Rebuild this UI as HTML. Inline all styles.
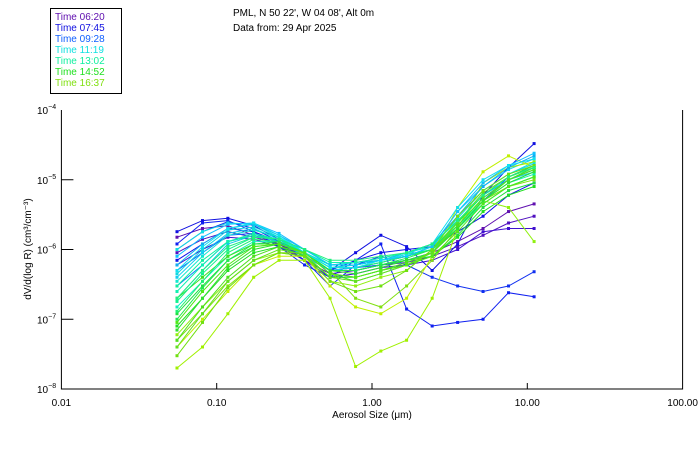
<!DOCTYPE html>
<html><head><meta charset="utf-8">
<style>
body{margin:0;background:#fff;width:700px;height:450px;overflow:hidden;font-family:"Liberation Sans","DejaVu Sans",sans-serif;}
svg{display:block}
text{font-family:"Liberation Sans","DejaVu Sans",sans-serif;font-size:10px;fill:#000}
</style></head>
<body>
<svg id="chart" width="700" height="450" viewBox="0 0 700 450">
<rect x="50.5" y="8.5" width="71" height="85" fill="#fff" stroke="#000" stroke-width="1"/>
<g id="legend"></g>
<text x="233" y="16">PML, N 50 22', W 04 08', Alt 0m</text>
<text x="233" y="31">Data from: 29 Apr 2025</text>
<g id="series"></g>
<g id="axes"></g>
<text x="372" y="418" text-anchor="middle">Aerosol Size (μm)</text>
<text transform="translate(31,249) rotate(-90)" text-anchor="middle">dV/d(log R) (cm³/cm⁻³)</text>
</svg>
<script>
const sizes = [0.0555,0.081,0.118,0.173,0.252,0.368,0.537,0.784,1.14,1.67,2.44,3.56,5.19,7.57,11.06];
const xTicks = [0.01,0.1,1,10,100];
const xTickLabels = ["0.01","0.10","1.00","10.00","100.00"];
const yTicks = [-4,-5,-6,-7,-8];
const legendLabels = ["Time 06:20","Time 07:45","Time 09:28","Time 11:19","Time 13:02","Time 14:52","Time 16:37"];
const legendColors = ["#6010b0","#1010e0","#1060ff","#10e0e0","#10f0a0","#20e020","#80e010"];
const seriesColors = ["#6010b0","#5010c0","#4010d0","#1010e0","#1020f0","#1030f0","#1010e8","#1060ff","#1080ff","#10e0e0","#10d0f0","#10c8e8","#10f0a0","#10f0c0","#20e040","#20e020","#40e020","#80e010","#a0f000","#c0f000","#90f010",
"#10b0f0","#10d8e0","#10e8d0","#10f0b0","#10f090","#20f070","#20e850","#30e030","#50e020","#60e020","#70e010","#10c0ff","#10e0f0","#20f080","#50e818"];
const s01=[1.5e-6,2e-6,2.2e-6,1.6e-6,1.2e-6,7e-7,4.5e-7,5e-7,6e-7,7e-7,9e-7,1.3e-6,2e-6,3.5e-6,4.5e-6];
const s02=[9e-7,1.4e-6,1.8e-6,1.5e-6,1.2e-6,8e-7,5e-7,5.5e-7,6e-7,6.5e-7,8e-7,1.1e-6,1.6e-6,2.4e-6,3e-6];
const s03=[6e-7,1e-6,1.5e-6,1.4e-6,1.1e-6,7e-7,4e-7,4.5e-7,5.5e-7,6e-7,7e-7,1e-6,1.8e-6,2e-6,2e-6];
const s04=[1.8e-6,2.6e-6,2.8e-6,2.2e-6,1.4e-6,8e-7,5e-7,9e-7,1.6e-6,1.1e-6,5e-7,1.2e-6,6e-6,1.5e-5,3.3e-5];
const s05=[1.2e-6,2.4e-6,2.6e-6,1.8e-6,1.1e-6,6e-7,4e-7,7e-7,1.2e-6,1.4e-7,8e-8,9e-8,1e-7,2.4e-7,2.1e-7];
const s06=[1e-6,1.8e-6,2.5e-6,2e-6,1.3e-6,7e-7,3e-7,6e-7,8e-7,6e-7,4e-7,3e-7,2.5e-7,3e-7,4.8e-7];
const s07=[7e-7,1.2e-6,2e-6,1.8e-6,1.3e-6,8e-7,5e-7,7e-7,9e-7,1e-6,1.1e-6,1.8e-6,3e-6,6e-6,9e-6];
const s08=[5e-7,9e-7,1.6e-6,1.7e-6,1.3e-6,8e-7,5e-7,5.5e-7,6e-7,7e-7,9e-7,2e-6,5e-6,1.1e-5,1.6e-5];
const s09=[3e-7,6e-7,1.3e-6,1.6e-6,1.3e-6,8e-7,5e-7,5.5e-7,6.5e-7,8e-7,1e-6,2.5e-6,6e-6,1e-5,1.4e-5];
const s10=[1e-6,1.8e-6,2.4e-6,2.3e-6,1.5e-6,9e-7,6e-7,6e-7,7e-7,8e-7,1e-6,3e-6,7e-6,1.2e-5,1.8e-5];
const s11=[4e-7,9e-7,1.7e-6,2e-6,1.4e-6,8e-7,5e-7,5.5e-7,6.5e-7,8e-7,1.1e-6,3.5e-6,8e-6,1.4e-5,2e-5];
const s12=[2e-7,5e-7,1.2e-6,1.6e-6,1.3e-6,8e-7,5e-7,5e-7,6e-7,7e-7,9e-7,2.5e-6,6e-6,1e-5,1.3e-5];
const s13=[3e-7,7e-7,1.3e-6,1.6e-6,1.4e-6,9e-7,6e-7,6e-7,7e-7,8e-7,1e-6,2e-6,5e-6,9e-6,1.3e-5];
const s14=[1.5e-7,3.5e-7,8e-7,1.3e-6,1.3e-6,9e-7,5.5e-7,6e-7,7e-7,8e-7,1e-6,2.2e-6,4.5e-6,8e-6,1.1e-5];
const s15=[1.2e-7,3e-7,7e-7,1.1e-6,1.2e-6,9e-7,5e-7,5e-7,6e-7,7e-7,8e-7,1.6e-6,4e-6,7e-6,9e-6];
const s16=[8e-8,2e-7,5e-7,9e-7,1.1e-6,8e-7,4e-7,4e-7,5e-7,6e-7,8e-7,1.5e-6,3.5e-6,6e-6,8e-6];
const s17=[2e-7,4e-7,8e-7,1.2e-6,1.2e-6,9e-7,4.5e-7,3.5e-7,4.5e-7,6e-7,9e-7,2e-6,5e-6,1e-5,1.5e-5];
const s18=[5e-8,1.2e-7,3e-7,6e-7,9e-7,9e-7,5e-7,2e-7,1.5e-7,3e-7,7e-7,2e-6,5e-6,8e-6,1e-5];
const s19=[2e-8,4e-8,1.2e-7,4e-7,7e-7,7e-7,2e-7,2.1e-8,3.5e-8,5e-8,2e-7,2e-6,9e-6,1.5e-5,1.8e-5];
const s20=[4e-8,1e-7,2.5e-7,6e-7,8e-7,8e-7,3e-7,1.5e-7,1.2e-7,2e-7,8e-7,4e-6,1.3e-5,2.2e-5,1.5e-5];
const s21=[6e-8,1.5e-7,3.5e-7,7e-7,9e-7,8e-7,3.5e-7,3e-7,4e-7,5e-7,1e-6,2.5e-6,5e-6,4e-6,1.3e-6];
const s22=[6e-7,1.2e-6,2e-6,2.3e-6,1.6e-6,1e-6,6e-7,6.5e-7,7e-7,9e-7,1.2e-6,3e-6,8e-6,1.5e-5,2.2e-5];
const s23=[4.5e-7,1e-6,1.9e-6,2.1e-6,1.5e-6,9e-7,5.5e-7,6e-7,7e-7,8e-7,1.1e-6,2.8e-6,7e-6,1.2e-5,1.7e-5];
const s24=[3.5e-7,8e-7,1.6e-6,1.9e-6,1.5e-6,9e-7,6e-7,6.5e-7,7.5e-7,9e-7,1.2e-6,2.5e-6,6e-6,1.1e-5,1.5e-5];
const s25=[2.5e-7,6e-7,1.3e-6,1.7e-6,1.4e-6,1e-6,6.5e-7,6.5e-7,7.5e-7,9e-7,1.1e-6,2.2e-6,5e-6,9e-6,1.2e-5];
const s26=[1.8e-7,4.5e-7,1e-6,1.5e-6,1.4e-6,1e-6,6e-7,6e-7,7e-7,8.5e-7,1e-6,2e-6,4.5e-6,8e-6,1.1e-5];
const s27=[1.3e-7,3.5e-7,9e-7,1.4e-6,1.3e-6,9e-7,5.5e-7,5.5e-7,6.5e-7,8e-7,1e-6,2.2e-6,5.5e-6,1e-5,1.4e-5];
const s28=[1e-7,2.8e-7,7e-7,1.2e-6,1.3e-6,9e-7,5e-7,5e-7,6e-7,7.5e-7,1e-6,2.4e-6,6e-6,1.1e-5,1.6e-5];
const s29=[7e-8,2e-7,5.5e-7,1e-6,1.2e-6,9e-7,5e-7,4.5e-7,5.5e-7,7e-7,9e-7,2e-6,5e-6,9e-6,1.3e-5];
const s30=[5e-8,1.5e-7,4e-7,8e-7,1.1e-6,9e-7,4.5e-7,4e-7,5e-7,6.5e-7,9e-7,2.2e-6,5.5e-6,1e-5,1.4e-5];
const s31=[4e-8,1.2e-7,3.5e-7,7e-7,1e-6,8.5e-7,4e-7,3.5e-7,4.5e-7,6e-7,9e-7,2.5e-6,6.5e-6,1.1e-5,1.5e-5];
const s32=[3e-8,9e-8,2.8e-7,6e-7,9e-7,8e-7,3.5e-7,2.5e-7,3e-7,5e-7,1e-6,3e-6,7e-6,1.2e-5,1.6e-5];
const s33=[8e-7,1.5e-6,2.3e-6,2.4e-6,1.7e-6,1e-6,6e-7,6e-7,7e-7,8e-7,1.1e-6,3.5e-6,9e-6,1.6e-5,2.4e-5];
const s34=[5e-7,1.1e-6,2e-6,2.4e-6,1.6e-6,9e-7,5.5e-7,5.5e-7,7e-7,8.5e-7,1.2e-6,4e-6,1e-5,1.6e-5,2e-5];
const s35=[2e-7,5e-7,1.1e-6,1.5e-6,1.4e-6,1e-6,7e-7,7e-7,8e-7,9e-7,1.2e-6,2.6e-6,6e-6,1.1e-5,1.5e-5];
const s36=[9e-8,2.5e-7,6e-7,1.1e-6,1.2e-6,9e-7,4.5e-7,4e-7,5e-7,6e-7,8e-7,1.8e-6,4.5e-6,8e-6,1.1e-5];
const allSeries=[s01,s02,s03,s04,s05,s06,s07,s08,s09,s10,s11,s12,s13,s14,s15,s16,s17,s18,s19,s20,s21,s22,s23,s24,s25,s26,s27,s28,s29,s30,s31,s32,s33,s34,s35,s36];

const NS="http://www.w3.org/2000/svg";
const X0=61.4, DEC=155.3, YT=110, YDEC=69.75;
function xs(v){return X0+(Math.log10(v)+2)*DEC;}
function ys(v){return YT+(-4-Math.log10(v))*YDEC;}
function mk(tag,attrs,parent){const e=document.createElementNS(NS,tag);for(const k in attrs)e.setAttribute(k,attrs[k]);parent.appendChild(e);return e;}

const sg=document.getElementById('series');
allSeries.forEach((s,i)=>{
  const col=seriesColors[i%seriesColors.length];
  const g=mk('g',{},sg);
  
  
  const pts=s.map((v,j)=>xs(sizes[j]).toFixed(1)+','+ys(v).toFixed(1)).join(' ');
  const pl=mk('polyline',{points:pts,fill:'none',stroke:col,'stroke-width':1},g);
  
  
  s.forEach((v,j)=>{
    const r=mk('rect',{x:xs(sizes[j])-1.5,y:ys(v)-1.5,width:3,height:3,fill:col},g);
    
    
  });
});

const ax=document.getElementById('axes');
const xr=xs(100), yb=ys(1e-8);
const frame=mk('path',{d:`M${X0} ${YT}V${yb}H${xr}V${YT}`,fill:'none',stroke:'#000','stroke-width':1},ax);


xTicks.forEach((t,i)=>{
  const x=xs(t);
  if(i>0&&i<xTicks.length-1){
    const tk=mk('line',{x1:x,x2:x,y1:yb,y2:yb-6,stroke:'#000'},ax);
    
    
  }
  const tx=mk('text',{x:x,y:yb+17,'text-anchor':'middle'},ax);
  tx.textContent=xTickLabels[i];
  
  
});
yTicks.forEach((e,i)=>{
  const y=ys(Math.pow(10,e));
  if(i>0&&i<yTicks.length-1){
    const tk=mk('line',{x1:X0,x2:X0+12,y1:y,y2:y,stroke:'#000'},ax);
    
    
  }
  const tx=mk('text',{x:37,y:y+4},ax);
  
  
  tx.appendChild(document.createTextNode('10'));
  const sp=mk('tspan',{dy:-5,'font-size':'7px'},tx);
  sp.textContent=String(e).replace('-','−');
});

const lg=document.getElementById('legend');
legendLabels.forEach((l,i)=>{
  const t=mk('text',{x:55,y:20+i*11,fill:legendColors[i]},lg);
  t.style.fill=legendColors[i];
  t.textContent=l;
  
  
});
</script>
</body></html>
